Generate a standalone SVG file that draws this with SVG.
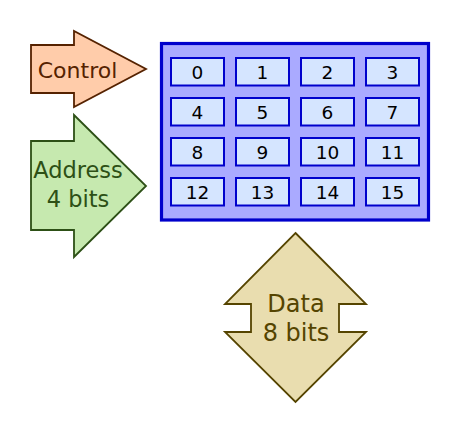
<svg xmlns="http://www.w3.org/2000/svg" width="460" height="440" viewBox="0 0 460 440">
<style>
text{font-family:"DejaVu Sans","Verdana",sans-serif;text-anchor:middle}
.cell rect{fill:#d5e5ff;stroke:#0000cc;stroke-width:2}
.cell text{font-size:18.5px;fill:#000}
</style>
<rect width="460" height="440" fill="#fff"/>
<g id="control">
<polygon points="31,45 74,45 74,31 146,69 74,107 74,93 31,93" fill="#ffccaa" stroke="#552200" stroke-width="1.8"/>
<text x="77.5" y="77.5" font-size="22" fill="#552200">Control</text>
</g>
<g id="address">
<polygon points="31,141 74,141 74,115 146,186 74,257 74,230 31,230" fill="#c6e9af" stroke="#2d5016" stroke-width="1.8"/>
<text x="78" y="178" font-size="22.5" fill="#2d5016">Address</text>
<text x="78" y="207" font-size="22.5" fill="#2d5016">4 bits</text>
</g>
<g id="memory">
<rect x="161.5" y="43.5" width="267" height="176.5" fill="#aaaaff" stroke="#0000cc" stroke-width="3.2"/>
<g class="cell" id="c0"><rect x="171" y="58" width="53" height="27.5"/><text x="197.5" y="79.3">0</text></g>
<g class="cell" id="c1"><rect x="236" y="58" width="53" height="27.5"/><text x="262.5" y="79.3">1</text></g>
<g class="cell" id="c2"><rect x="301" y="58" width="53" height="27.5"/><text x="327.5" y="79.3">2</text></g>
<g class="cell" id="c3"><rect x="366" y="58" width="53" height="27.5"/><text x="392.5" y="79.3">3</text></g>
<g class="cell" id="c4"><rect x="171" y="98" width="53" height="27.5"/><text x="197.5" y="119.3">4</text></g>
<g class="cell" id="c5"><rect x="236" y="98" width="53" height="27.5"/><text x="262.5" y="119.3">5</text></g>
<g class="cell" id="c6"><rect x="301" y="98" width="53" height="27.5"/><text x="327.5" y="119.3">6</text></g>
<g class="cell" id="c7"><rect x="366" y="98" width="53" height="27.5"/><text x="392.5" y="119.3">7</text></g>
<g class="cell" id="c8"><rect x="171" y="138" width="53" height="27.5"/><text x="197.5" y="159.3">8</text></g>
<g class="cell" id="c9"><rect x="236" y="138" width="53" height="27.5"/><text x="262.5" y="159.3">9</text></g>
<g class="cell" id="c10"><rect x="301" y="138" width="53" height="27.5"/><text x="327.5" y="159.3">10</text></g>
<g class="cell" id="c11"><rect x="366" y="138" width="53" height="27.5"/><text x="392.5" y="159.3">11</text></g>
<g class="cell" id="c12"><rect x="171" y="178" width="53" height="27.5"/><text x="197.5" y="199.3">12</text></g>
<g class="cell" id="c13"><rect x="236" y="178" width="53" height="27.5"/><text x="262.5" y="199.3">13</text></g>
<g class="cell" id="c14"><rect x="301" y="178" width="53" height="27.5"/><text x="327.5" y="199.3">14</text></g>
<g class="cell" id="c15"><rect x="366" y="178" width="53" height="27.5"/><text x="392.5" y="199.3">15</text></g>
</g>
<g id="data">
<polygon points="295.5,233 366,304 339,304 339,332 366,332 295.5,402 225,332 251,332 251,304 225,304" fill="#e9ddaf" stroke="#554400" stroke-width="1.8"/>
<text x="296" y="312" font-size="24" fill="#554400">Data</text>
<text x="296" y="340.5" font-size="24" fill="#554400">8 bits</text>
</g>
<g id="connectors"></g>
</svg>
